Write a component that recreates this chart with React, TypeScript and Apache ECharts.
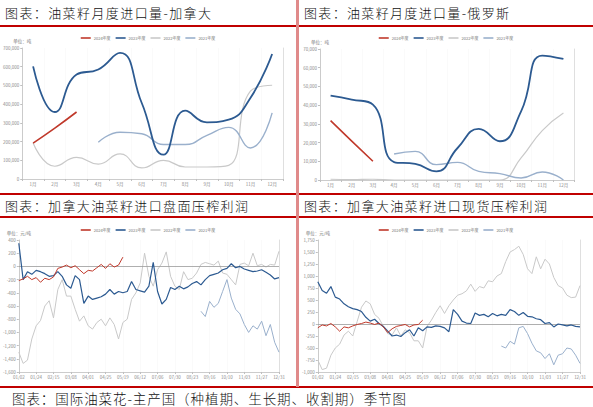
import React, { useEffect, useRef } from 'react';
import * as echarts from 'echarts';

const LEGEND = ['2024年度', '2023年度', '2022年度', '2021年度'];
const COLORS = ['#c0392b', '#2c5a91', '#c9c9c9', '#9ab0cc'];
const MONTHS = ['1月', '2月', '3月', '4月', '5月', '6月', '7月', '8月', '9月', '10月', '11月', '12月'];

// 油菜籽月度进口量-加拿大 (吨)
const CA_2024 = [192000, 272000, 358000, null, null, null, null, null, null, null, null, null];
const CA_2023 = [602000, 358000, 558000, 585000, 674000, 406000, 130000, 365000, 303000, 317000, 433000, 668000];
const CA_2022 = [192000, 68000, 116000, 80000, 134000, 59000, 100000, 64000, 64000, 73000, 469000, 501000];
const CA_2021 = [null, null, null, 196000, 250000, 242000, 184000, 184000, 233000, 276000, 166000, 353000];

// 油菜籽月度进口量-俄罗斯 (吨)
const RU_2024 = [31700, 20800, 10000, null, null, null, null, null, null, null, null, null];
const RU_2023 = [45100, 43000, 40300, 9600, 8600, 4600, 17100, 27300, 20700, 36700, 66500, 64700];
const RU_2022 = [400, 200, 400, 0, 0, 0, 0, 0, 0, 11800, 26400, 35800];
const RU_2021 = [null, null, null, 13900, 15300, 8200, 9400, 4600, 3400, 1100, 4300, 0];

const DAYS = ['01/02', '01/08', '01/12', '01/18', '01/24', '01/30', '02/05', '02/09', '02/15', '02/21', '02/27',
  '03/04', '03/08', '03/14', '03/20', '03/26', '04/01', '04/07', '04/13', '04/19', '04/25',
  '05/01', '05/07', '05/13', '05/19', '05/25', '05/31', '06/06', '06/12', '06/18', '06/24', '06/30',
  '07/06', '07/12', '07/18', '07/24', '07/30', '08/05', '08/11', '08/17', '08/23', '08/29',
  '09/04', '09/10', '09/16', '09/22', '09/28', '10/04', '10/10', '10/16', '10/22', '10/28',
  '11/03', '11/09', '11/15', '11/21', '11/27', '12/03', '12/09', '12/19', '12/31'];

const N36 = Array(36).fill(null);
const N42 = Array(42).fill(null);

// 加拿大油菜籽进口盘面压榨利润 (元/吨)
const PM_2024 = [-215, -190, -150, -200, -170, -240, -180, -200, -160, -30, -10, 20, -20, 10, -50, -110, -60, -70, -20, 30, -30, 40, -10, 20, 140, ...N36];
const PM_2023 = [350, -200, -80, -120, -60, -80, -110, -150, -140, -80,
  -150, -280, -330, -140, -200, -560, -450, -500, -480, -460,
  -420, -350, -420, -380, -400, -380, -230, -350, -370, -390,
  -300, 60, -380, -570, -500, -320, -350, -300, -340, -310,
  -260, -230, -280, -200, -140, -120, -100, -50, -30, 40,
  -20, 0, -40, -60, -80, -70, -50, -90, -130, -190, -170];
const PM_2022 = [-1300, -1470, -1420, -1100, -900, -820, -600, -520, -780, -350,
  -200, -450, -450, -650, -830, -750, -900, -950, -850, -800,
  -900, -780, -880, -1100, -850, -800, -500, -400, -250, 200,
  -150, -300, -50, 50, 220, -150, -300, -350, -80, -200,
  -180, -100, 30, 60, 40, 20, 80, -100, -120, -200,
  -280, 30, 50, 10, 200, 10, 30, -10, 30, 20, 230];
const PM_2021 = [...N42, -680, -760, -530, -620, -560, -380, -200, -480, -650, -720, -880, -1000, -900, -950, -830, -1050, -880, -1150, -1300];

// 加拿大油菜籽进口现货压榨利润 (元/吨)
const XH_2024 = [-80, -20, -40, 10, -60, -150, -60, -80, -40, -10, 10, 40, 20, -10, 20, -60, -180, -100, -50, -30, -10, -60, -20, -10, 80, ...N36];
const XH_2023 = [880, 700, 640, 780, 560, 520, 420, 360, 320, 300,
  260, 140, 60, 100, 10, -50, -150, -250, -230, -260,
  -180, -120, -250, -80, -140, -60, -70, -40, -50, -80,
  -160, 300, 200, 60, 20, 10, 230, 180, 200, 150,
  220, 170, 200, 180, 300, 260, 180, 240, 160, 150,
  110, 90, 10, 30, -60, 0, -20, -40, -20, -50, -60];
const XH_2022 = [-750, -950, -920, -650, -500, -420, -230, -150, -250, 50,
  350, 480, 420, 200, 120, -50, -200, -230, -80, -250,
  -120, -180, -350, -350, -500, -50, 80, 240, 380, 220,
  380, 500, 600, 630, 690, 830, 680, 780, 750, 900,
  880, 1000, 1050, 1300, 1500, 1550, 1620, 1450, 1150, 1050,
  1400, 1150, 1350, 1250, 970, 800, 750, 600, 550, 560, 800];
const XH_2021 = [...N42, -460, -500, -360, -420, -80, -50, -200, -400, -560, -600, -720, -620, -850, -650, -620, -500, -520, -650, -820];

const FONT = 'Noto Sans CJK SC';
const LBL = { fontSize: 4.5, color: '#8a8a8a', fontFamily: FONT };

function fmt(v: number) {
  return v.toLocaleString('en-US');
}

function buildOption(cfg: any) {
  const { grid, cats, ymin, ymax, yint, data, unit, smooth, widths, daily } = cfg;
  const series = data.map((d: any, i: number) => {
    const s: any = {
      name: LEGEND[i],
      type: 'line',
      data: d,
      smooth: smooth,
      symbol: 'none',
      connectNulls: false,
      z: [6, 5, 3, 4][i],
      lineStyle: { color: COLORS[i], width: widths[i] },
      itemStyle: { color: COLORS[i] },
    };
    if (daily && i === 2) {
      s.markLine = {
        silent: true,
        symbol: 'none',
        label: { show: false },
        lineStyle: { color: '#9a9a9a', width: 0.8, type: 'solid' },
        data: [{ yAxis: 0 }],
      };
    }
    return s;
  });
  return {
    animation: false,
    backgroundColor: '#ffffff',
    legend: {
      data: LEGEND,
      top: cfg.legendTop,
      left: 'center',
      icon: 'rect',
      itemWidth: 10,
      itemHeight: 1.6,
      itemGap: 5,
      textStyle: { fontSize: 4, color: '#777', fontFamily: FONT, padding: [0, 0, 0, -2] },
    },
    grid,
    xAxis: {
      type: 'category',
      data: cats,
      boundaryGap: !daily,
      axisLine: { onZero: false, lineStyle: { color: '#bfbfbf', width: 0.8 } },
      axisTick: daily
        ? { show: true, interval: 3, length: 2, lineStyle: { color: '#bfbfbf' } }
        : { show: true, length: 2, lineStyle: { color: '#bfbfbf' } },
      axisLabel: { ...LBL, margin: 3, interval: daily ? 3 : 0 },
      splitLine: { show: true, interval: daily ? 3 : 0, lineStyle: { color: '#f6f6f6', width: 0.6 } },
    },
    yAxis: [
      {
        type: 'value',
        min: ymin,
        max: ymax,
        interval: yint,
        name: unit,
        nameLocation: 'end',
        nameGap: 5,
        nameTextStyle: { fontSize: 4.5, color: '#777', fontFamily: FONT },
        axisLine: { show: true, lineStyle: { color: '#bfbfbf', width: 0.8 } },
        axisTick: { show: true, length: 2, lineStyle: { color: '#bfbfbf' } },
        axisLabel: { ...LBL, margin: 3, formatter: (v: number) => fmt(v) },
        splitLine: { show: false },
      },
      {
        type: 'value',
        position: 'right',
        axisLine: { show: true, lineStyle: { color: '#d8d8d8', width: 0.8 } },
        axisTick: { show: false },
        axisLabel: { show: false },
        splitLine: { show: false },
      },
    ],
    series,
  };
}

function Chart({ option, box }: { option: any; box: any }) {
  const ref = useRef<HTMLDivElement>(null);
  useEffect(() => {
    const c = echarts.init(ref.current!, null, { renderer: 'svg' });
    c.setOption(option);
    return () => c.dispose();
  }, []);
  return <div ref={ref} style={{ position: 'absolute', ...box }} />;
}

const titleStyle: any = {
  position: 'absolute',
  fontFamily: FONT,
  fontSize: 13,
  fontWeight: 300,
  color: '#111',
  lineHeight: '16px',
  textAlign: 'justify',
  textAlignLast: 'justify',
  textJustify: 'inter-character',
};

export default function App() {
  const opt1 = buildOption({
    grid: { left: 22, right: 13, top: 21, bottom: 13 },
    cats: MONTHS, ymin: 0, ymax: 700000, yint: 100000,
    data: [CA_2024, CA_2023, CA_2022, CA_2021], unit: '单位：吨',
    smooth: 0.5, widths: [1.6, 1.8, 1.2, 1.4], legendTop: 4,
  });
  const opt2 = buildOption({
    grid: { left: 21, right: 19, top: 22, bottom: 12 },
    cats: MONTHS, ymin: 0, ymax: 70000, yint: 10000,
    data: [RU_2024, RU_2023, RU_2022, RU_2021], unit: '单位：吨',
    smooth: 0.5, widths: [1.6, 1.8, 1.2, 1.4], legendTop: 4,
  });
  const opt3 = buildOption({
    grid: { left: 18, right: 17, top: 23, bottom: 14 },
    cats: DAYS, ymin: -1600, ymax: 400, yint: 200,
    data: [PM_2024, PM_2023, PM_2022, PM_2021], unit: '单位：元/吨',
    smooth: false, widths: [1, 1.2, 1, 1], legendTop: 6, daily: true,
  });
  const opt4 = buildOption({
    grid: { left: 18, right: 13, top: 23, bottom: 14 },
    cats: DAYS, ymin: -1000, ymax: 1750, yint: 250,
    data: [XH_2024, XH_2023, XH_2022, XH_2021], unit: '单位：元/吨',
    smooth: false, widths: [1, 1.2, 1, 1], legendTop: 6, daily: true,
  });

  return (
    <div style={{ position: 'fixed', left: 0, top: 0, width: 593, height: 407, background: '#fff', overflow: 'hidden' }}>
      <div style={{ ...titleStyle, left: 5, top: 5, width: 206 }}>图表：油菜籽月度进口量-加拿大</div>
      <div style={{ ...titleStyle, left: 304, top: 5, width: 205 }}>图表：油菜籽月度进口量-俄罗斯</div>
      <div style={{ ...titleStyle, left: 5, top: 198, width: 243 }}>图表：加拿大油菜籽进口盘面压榨利润</div>
      <div style={{ ...titleStyle, left: 304, top: 198, width: 243 }}>图表：加拿大油菜籽进口现货压榨利润</div>
      <div style={{ ...titleStyle, left: 12, top: 390, width: 394, fontSize: 13.5 }}>图表：国际油菜花-主产国（种植期、生长期、收割期）季节图</div>

      <Chart option={opt1} box={{ left: 0, top: 27, width: 296, height: 165 }} />
      <Chart option={opt2} box={{ left: 299, top: 27, width: 294, height: 165 }} />
      <Chart option={opt3} box={{ left: 0, top: 217, width: 296, height: 169 }} />
      <Chart option={opt4} box={{ left: 299, top: 217, width: 294, height: 169 }} />

      <div style={{ position: 'absolute', left: 0, top: 25, width: 593, height: 1.5, background: '#c00000' }} />
      <div style={{ position: 'absolute', left: 0, top: 193, width: 593, height: 1.5, background: '#c00000' }} />
      <div style={{ position: 'absolute', left: 0, top: 216, width: 593, height: 1.5, background: '#c00000' }} />
      <div style={{ position: 'absolute', left: 0, top: 386, width: 593, height: 1.5, background: '#c00000' }} />
      <div style={{ position: 'absolute', left: 296, top: 0, width: 2.5, height: 387, background: '#e08a8a' }} />
    </div>
  );
}
